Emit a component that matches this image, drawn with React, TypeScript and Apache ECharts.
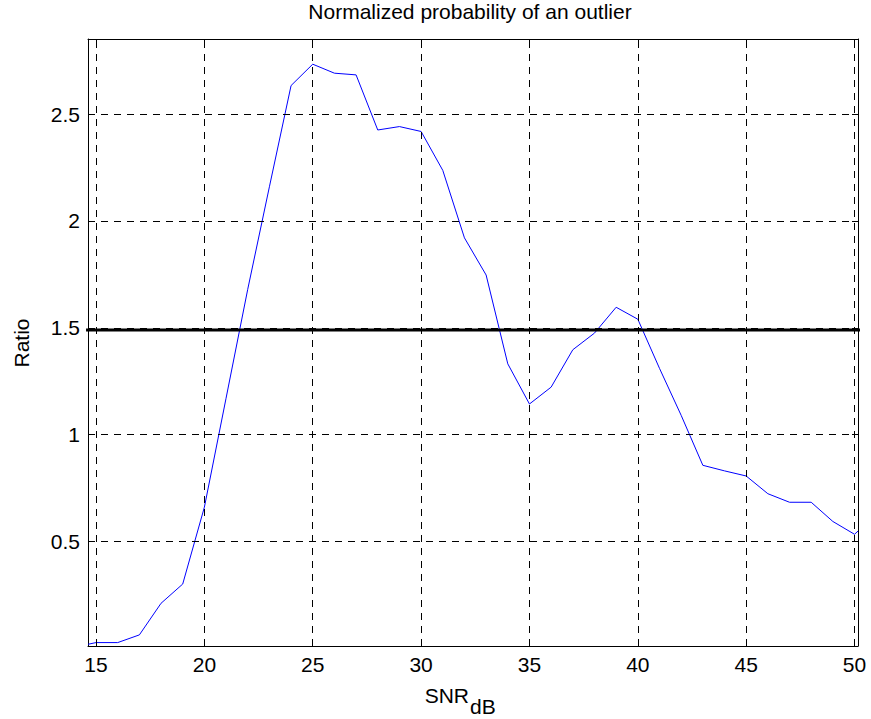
import React, { useEffect, useRef } from "react";
import * as echarts from "echarts";

// SNR values (dB)
const snrValues = [
  14.63, 15, 16, 17, 18, 19, 20, 21, 22, 23, 24, 25, 26, 27, 28, 29, 30, 31, 32,
  33, 34, 35, 36, 37, 38, 39, 40, 41, 42, 43, 44, 45, 46, 47, 48, 49, 50, 50.16,
];
// Normalized probability ratio
const ratioValues = [
  0.018, 0.026, 0.026, 0.062, 0.21, 0.3, 0.66, 1.17, 1.68, 2.16, 2.634, 2.734,
  2.692, 2.684, 2.426, 2.442, 2.419, 2.237, 1.921, 1.747, 1.331, 1.143, 1.222,
  1.397, 1.475, 1.596, 1.54, 1.31, 1.09, 0.856, 0.83, 0.806, 0.723, 0.683,
  0.683, 0.593, 0.533, 0.548,
];
// threshold line
const thresholdX = [14.54, 50.29];
const thresholdY = [1.49, 1.49];

const xTicks = [15, 20, 25, 30, 35, 40, 45, 50];
const yTicks = [0.5, 1, 1.5, 2, 2.5];
const xRange = [14.63, 50.16];
const yRange = [0.01, 2.852];

const FONT = "Arial, 'Liberation Sans', Helvetica, sans-serif";
const FS = 21;

export default function App() {
  const ref = useRef<HTMLDivElement>(null);

  useEffect(() => {
    if (!ref.current) return;
    const chart = echarts.init(ref.current, undefined, { renderer: "svg" });

    const tickStyle = { show: true, inside: true, length: 6, lineStyle: { color: "#000", width: 1 } };
    const gridDash = { color: "#000", width: 1, type: [7, 6] as number[] };

    const curve = snrValues.map((x, i) => [x, ratioValues[i]]);
    const threshold = thresholdX.map((x, i) => [x, thresholdY[i]]);

    chart.setOption({
      animation: false,
      backgroundColor: "#fff",
      title: {
        text: "Normalized probability of an outlier",
        left: 470,
        top: 1,
        textAlign: "center",
        padding: 0,
        textStyle: { fontSize: FS, fontWeight: "normal", color: "#000", fontFamily: FONT },
      },
      grid: { left: 88, right: 13, top: 39, bottom: 73, outerBoundsMode: "none" },
      xAxis: [
        {
          type: "value",
          min: xRange[0],
          max: xRange[1],
          position: "bottom",
          axisLine: { show: true, onZero: false, lineStyle: { color: "#000", width: 1 } },
          axisTick: { ...tickStyle, customValues: xTicks },
          axisLabel: {
            customValues: xTicks,
            color: "#000",
            fontSize: FS,
            fontFamily: FONT,
            margin: 8,
          },
          splitLine: { show: false },
        },
        {
          type: "value",
          min: xRange[0],
          max: xRange[1],
          position: "top",
          axisLine: { show: true, onZero: false, lineStyle: { color: "#000", width: 1 } },
          axisTick: { ...tickStyle, customValues: xTicks },
          axisLabel: { show: false },
          splitLine: { show: false },
        },
      ],
      yAxis: [
        {
          type: "value",
          min: yRange[0],
          max: yRange[1],
          position: "left",
          axisLine: { show: true, onZero: false, lineStyle: { color: "#000", width: 1 } },
          axisTick: { ...tickStyle, customValues: yTicks },
          axisLabel: {
            customValues: yTicks,
            color: "#000",
            fontSize: FS,
            fontFamily: FONT,
            margin: 8,
          },
          splitLine: { show: false },
        },
        {
          type: "value",
          min: yRange[0],
          max: yRange[1],
          position: "right",
          axisLine: { show: true, onZero: false, lineStyle: { color: "#000", width: 1 } },
          axisTick: { ...tickStyle, customValues: yTicks },
          axisLabel: { show: false },
          splitLine: { show: false },
        },
      ],
      graphic: [
        {
          type: "text",
          x: 21,
          y: 343,
          rotation: Math.PI / 2,
          style: {
            text: "Ratio",
            fontSize: FS,
            fontFamily: FONT,
            fill: "#000",
            textAlign: "center",
            textVerticalAlign: "middle",
          },
        },
        {
          type: "text",
          x: 469,
          y: 685,
          style: {
            text: "SNR",
            fontSize: FS,
            fontFamily: FONT,
            fill: "#000",
            textAlign: "right",
            textVerticalAlign: "top",
          },
        },
        {
          type: "text",
          x: 470,
          y: 696,
          style: {
            text: "dB",
            fontSize: FS,
            fontFamily: FONT,
            fill: "#000",
            textAlign: "left",
            textVerticalAlign: "top",
          },
        },
      ],
      series: [
        {
          type: "line",
          name: "grid",
          data: [],
          z: 1,
          silent: true,
          markLine: {
            silent: true,
            symbol: "none",
            label: { show: false },
            lineStyle: gridDash,
            emphasis: { disabled: true },
            data: [
              ...xTicks.map((v) => ({ xAxis: v })),
              ...yTicks.map((v) => ({ yAxis: v })),
            ],
          },
        },
        {
          type: "line",
          name: "Ratio",
          data: curve,
          z: 3,
          symbol: "none",
          lineStyle: { color: "#0000ff", width: 1 },
          itemStyle: { color: "#0000ff" },
        },
        {
          type: "line",
          name: "Threshold",
          data: threshold,
          z: 4,
          clip: false,
          symbol: "none",
          lineStyle: { color: "#000", width: 3 },
          itemStyle: { color: "#000" },
        },
      ],
    });

    return () => chart.dispose();
  }, []);

  return (
    <div
      ref={ref}
      style={{ position: "fixed", left: 0, top: 0, width: 871, height: 719, background: "#fff" }}
    />
  );
}
